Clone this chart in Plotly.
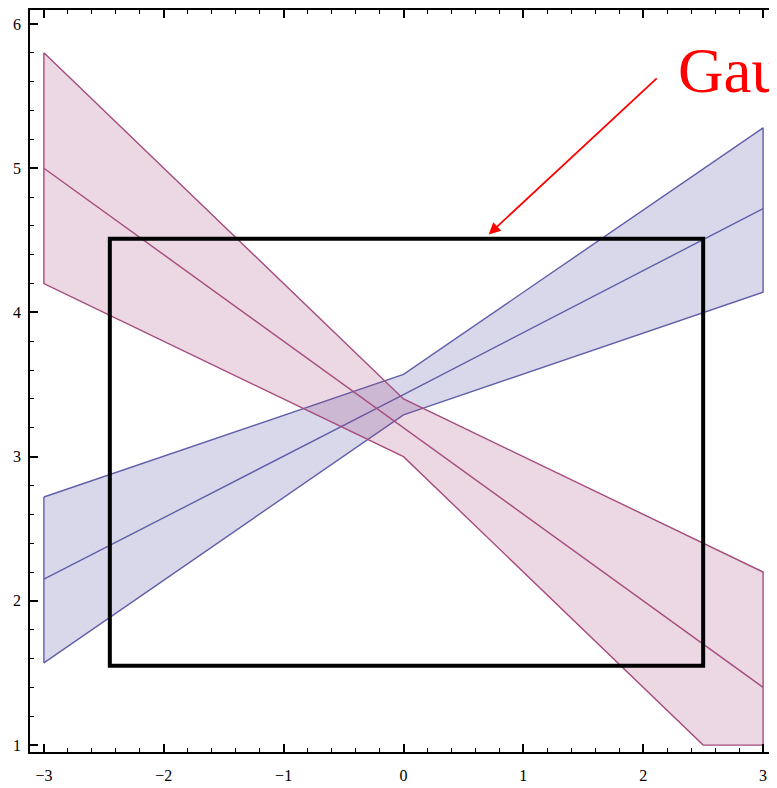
import plotly.graph_objects as go

# ---- data ----
x_knots = [-3, 0, 3]
blue_center = [2.15, 3.43, 4.72]
blue_upper = [2.72, 3.57, 5.28]
blue_lower = [1.57, 3.29, 4.14]

pink_center = [5.0, 3.2, 1.4]
pink_upper = [5.8, 3.4, 2.2]
pink_lower_x = [-3, 0, 2.5, 3]
pink_lower = [4.2, 3.0, 1.0, 1.0]

rect_x = [-2.45, 2.5]
rect_y = [1.55, 4.51]

x_ticks = [-3, -2, -1, 0, 1, 2, 3]
x_tick_labels = ["\u22123", "\u22122", "\u22121", "0", "1", "2", "3"]
y_ticks = [1, 2, 3, 4, 5, 6]

label_text = "Gaussian"

# ---- styles ----
blue_line = "rgb(95,95,170)"
blue_fill = "rgba(64,61,153,0.2)"
pink_line = "rgb(165,75,125)"
pink_fill = "rgba(153,61,116,0.2)"

fig = go.Figure()

# blue band
fig.add_trace(go.Scatter(
    x=x_knots + x_knots[::-1] + [x_knots[0]],
    y=blue_upper + blue_lower[::-1] + [blue_upper[0]],
    mode="lines", fill="toself", fillcolor=blue_fill,
    line=dict(color=blue_line, width=1.4), hoverinfo="skip"))
fig.add_trace(go.Scatter(x=x_knots, y=blue_center, mode="lines",
                         line=dict(color=blue_line, width=1.4)))

# pink band
fig.add_trace(go.Scatter(
    x=x_knots + pink_lower_x[::-1] + [x_knots[0]],
    y=pink_upper + pink_lower[::-1] + [pink_upper[0]],
    mode="lines", fill="toself", fillcolor=pink_fill,
    line=dict(color=pink_line, width=1.4), hoverinfo="skip"))
fig.add_trace(go.Scatter(x=x_knots, y=pink_center, mode="lines",
                         line=dict(color=pink_line, width=1.4)))

# black rectangle
fig.add_shape(type="rect", x0=rect_x[0], x1=rect_x[1], y0=rect_y[0], y1=rect_y[1],
              xref="x", yref="y", line=dict(color="black", width=4))

# red arrow + label
fig.add_annotation(x=0.711, y=4.541, ax=2.125, ay=5.633, xref="x", yref="y",
                   axref="x", ayref="y", showarrow=True, arrowhead=2,
                   arrowsize=1.3, arrowwidth=1.8, arrowcolor="red", text="")
fig.add_annotation(x=0.865, y=0.8683, xref="paper", yref="paper", text=label_text,
                   showarrow=False, xanchor="left", yanchor="bottom",
                   font=dict(family="Liberation Serif", size=63, color="red"))

axis_common = dict(
    showgrid=False, zeroline=False, showline=True, linecolor="black", linewidth=1.5,
    mirror="allticks", ticks="inside", ticklen=8, tickwidth=1.5, tickcolor="black",
    tickfont=dict(family="Liberation Serif", size=16, color="black"),
    minor=dict(ticks="inside", ticklen=4, tickwidth=1.2, tickcolor="black", showgrid=False),
)

fig.update_layout(
    width=771, height=780,
    margin=dict(l=22, r=0, t=0, b=36),
    paper_bgcolor="white", plot_bgcolor="white",
    showlegend=False,
    xaxis=dict(range=[-3.116, 3.116], tickvals=x_ticks, ticktext=x_tick_labels,
               ticklabelstandoff=8, **axis_common),
    yaxis=dict(range=[0.952, 6.097], tickvals=y_ticks, ticklabelstandoff=4, **axis_common),
)
fig.update_xaxes(minor=dict(tickvals=[v / 5 for v in range(-15, 16)]))
fig.update_yaxes(minor=dict(tickvals=[v / 5 for v in range(5, 31)]))

fig.write_html("out.html")
